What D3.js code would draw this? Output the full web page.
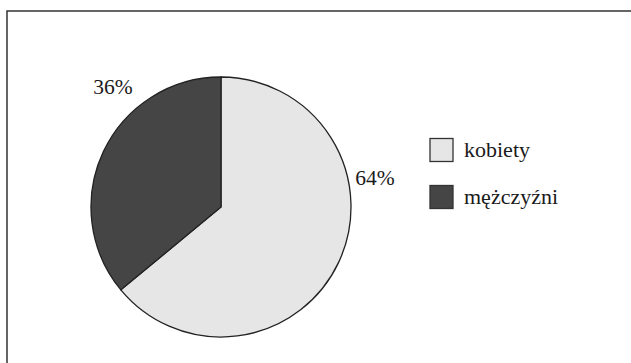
<!DOCTYPE html>
<html>
<head>
<meta charset="utf-8">
<script src="https://cdn.jsdelivr.net/npm/d3@7"></script>
<style>
  body { margin: 0; background: #fff; }
  svg { display: block; font-family: "Liberation Serif", "Times New Roman", serif; }
</style>
</head>
<body>
<svg id="chart" width="631" height="363"></svg>
<script>
const categories = ["kobiety", "mężczyźni"];
const values = [64, 36];
const colors = ["#e6e6e6", "#454545"];
// label offsets from the pie centre, as in the original layout
const labelOffsets = [[154, -30], [-108, -121]];

var w = 631, h = 363;
var cx = 221, cy = 207, r = 130;

var svg = d3.select("#chart");

// frame (only top and left edges are in view)
svg.append("rect")
  .attr("x", 7).attr("y", 11)
  .attr("width", w + 20).attr("height", h + 20)
  .attr("fill", "none")
  .attr("stroke", "#333")
  .attr("stroke-width", 1.5);

var data = categories.map(function(c, i) { return {name: c, value: values[i], color: colors[i]}; });

var pie = d3.pie()
  .sort(null)
  .value(function(d) { return d.value; });

var arc = d3.arc().innerRadius(0).outerRadius(r);

var g = svg.append("g").attr("transform", "translate(" + cx + "," + cy + ")");

g.selectAll("path")
  .data(pie(data))
  .enter().append("path")
    .attr("d", arc)
    .attr("fill", function(d) { return d.data.color; })
    .attr("stroke", "#222")
    .attr("stroke-width", 1.3);

g.selectAll("text.pct")
  .data(pie(data))
  .enter().append("text")
    .attr("class", "pct")
    .attr("x", function(d, i) { return labelOffsets[i][0]; })
    .attr("y", function(d, i) { return labelOffsets[i][1]; })
    .attr("text-anchor", "middle")
    .attr("dy", "0.35em")
    .attr("font-size", 21.5)
    .attr("fill", "#1a1a1a")
    .text(function(d) { return d.data.value + "%"; });

// legend
var legendY = d3.scalePoint().domain(categories).range([150, 197]);

var legend = svg.append("g").selectAll("g")
  .data(data)
  .enter().append("g")
    .attr("transform", function(d) { return "translate(430," + legendY(d.name) + ")"; });

legend.append("rect")
  .attr("x", 0).attr("y", -11.5)
  .attr("width", 23).attr("height", 23)
  .attr("fill", function(d) { return d.color; })
  .attr("stroke", "#333")
  .attr("stroke-width", 1.3);

legend.append("text")
  .attr("x", 34).attr("y", 0)
  .attr("dy", "0.3em")
  .attr("font-size", 22)
  .attr("fill", "#1a1a1a")
  .text(function(d) { return d.name; });
</script>
</body>
</html>
